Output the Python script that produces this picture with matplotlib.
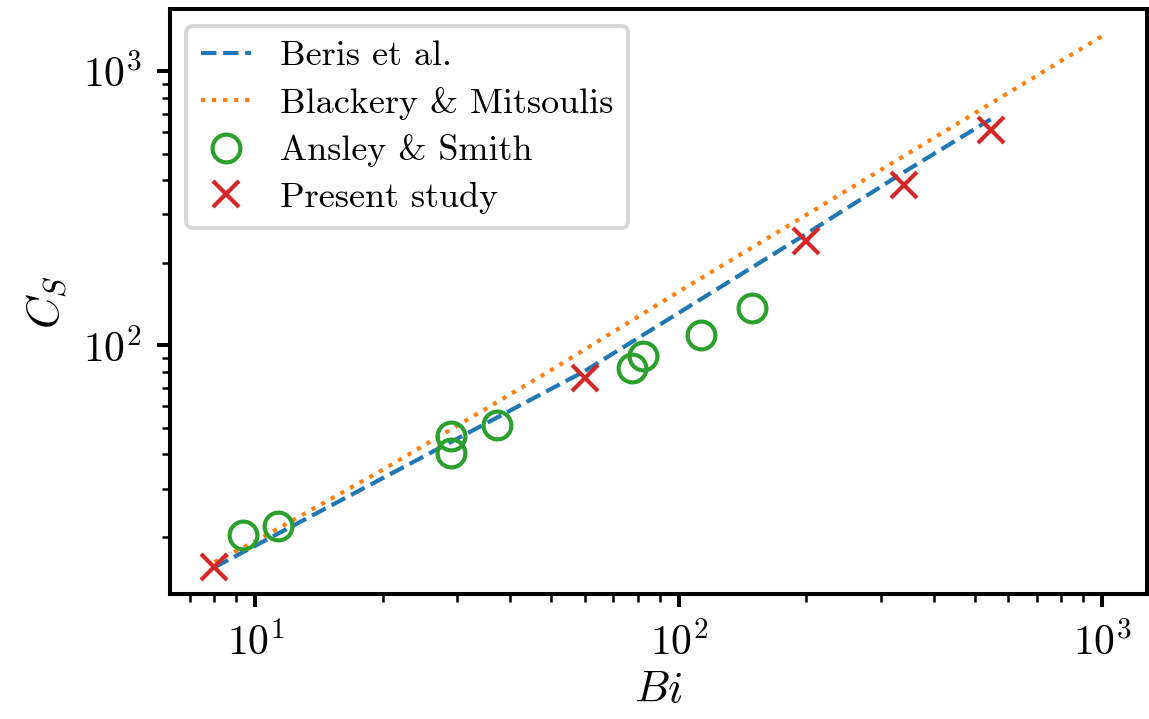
import numpy as np
import matplotlib
matplotlib.use("Agg")
import matplotlib.pyplot as plt

plt.rcParams["font.family"] = "serif"
plt.rcParams["font.serif"] = ["cmr10"]
plt.rcParams["mathtext.fontset"] = "cm"
plt.rcParams["axes.formatter.use_mathtext"] = True

# Beris et al. correlation
bi_beris = [8, 60, 200, 340, 545]
cs_beris = [15.5, 80.6, 255, 428, 667]

# Blackery & Mitsoulis correlation
bi_blackery = [8, 10, 20, 50, 100, 200, 500, 1000]
cs_blackery = [16.2, 19.3, 35.2, 81.3, 157, 299, 702, 1343]

# Ansley & Smith experiments
bi_ansley = [9.33, 11.28, 29.0, 29.0, 37.1, 77.6, 82.2, 112.8, 149.2]
cs_ansley = [20.4, 21.9, 46.5, 40.4, 51.1, 82.9, 91.5, 109.3, 136.9]

# present simulations
bi_present = [8, 60, 200, 340, 545]
cs_present = [15.6, 76.2, 240, 385, 609]

fig = plt.figure(figsize=(11.49, 7.19), dpi=100)
ax = fig.add_axes([0.148, 0.174, 0.85, 0.813])

ax.plot(bi_beris, cs_beris, "--", color="tab:blue", lw=3, label="Beris et al.")
ax.plot(bi_blackery, cs_blackery, ":", color="tab:orange", lw=3, label="Blackery & Mitsoulis")
ax.plot(bi_ansley, cs_ansley, "o", mfc="none", mec="tab:green", ms=20, mew=3, label="Ansley & Smith")
ax.plot(bi_present, cs_present, "x", color="tab:red", ms=19, mew=3, label="Present study")

ax.set_xscale("log")
ax.set_yscale("log")
ax.set_xlabel(r"$Bi$", fontsize=32, labelpad=6)
ax.set_ylabel(r"$C_S$", fontsize=32, labelpad=10)

for s in ax.spines.values():
    s.set_linewidth(2.9)
ax.tick_params(which="major", length=9.5, width=2.9, labelsize=30, pad=11)
ax.tick_params(which="minor", length=6, width=1.8)

leg = ax.legend(loc="upper left", fontsize=26, handlelength=1.4, borderpad=0.4,
                labelspacing=0.4, handletextpad=0.8, borderaxespad=0.45)
leg.get_frame().set_linewidth(2.9)

fig.savefig("out.png", dpi=100)
